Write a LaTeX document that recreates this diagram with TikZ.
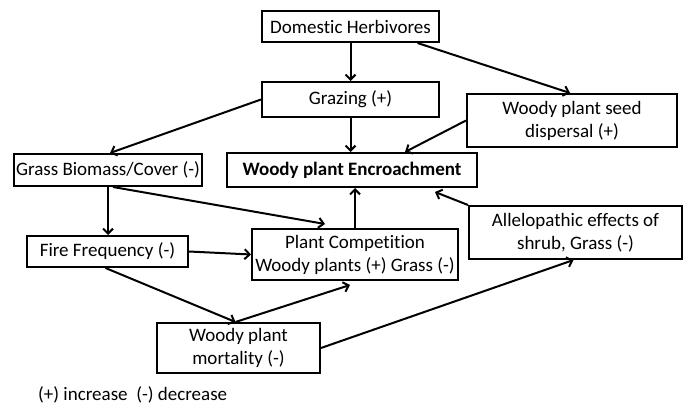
\documentclass[tikz,border=0pt]{standalone}
\usepackage{fontspec}
\setmainfont{Carlito}[Ligatures=NoCommon]
\usetikzlibrary{arrows.meta}
\begin{document}
\begin{tikzpicture}[x=1pt,y=-1pt,
  box/.style={draw,line width=2pt,rectangle,inner sep=0pt,align=center,
    font=\fontsize{19}{23}\selectfont},
  conn/.style={line width=2pt,-{Straight Barb[length=5pt,width=10pt,line width=2pt]}}]
\useasboundingbox (0,0) rectangle (691,406);
\node[box,minimum width=177pt,minimum height=31pt] (dom) at (350.5,26.5) {Domestic Herbivores};
\node[box,minimum width=177pt,minimum height=35pt] (graz) at (350.5,99.5) {Grazing (+)};
\node[box,minimum width=210pt,minimum height=53pt] (seed) at (572,120.5) {Woody plant seed\\dispersal (+)};
\node[box,minimum width=188pt,minimum height=32pt] (grass) at (108,170) {Grass Biomass/Cover (-)};
\node[box,minimum width=250pt,minimum height=34pt,font=\fontsize{19}{23}\selectfont\bfseries] (enc) at (352,170) {Woody plant Encroachment};
\node[box,minimum width=161pt,minimum height=31pt] (fire) at (107.5,251.5) {Fire Frequency (-)};
\node[box,minimum width=206pt,minimum height=51pt] (comp) at (355,254.5) {Plant Competition\\Woody plants (+) Grass (-)};
\node[box,minimum width=213pt,minimum height=53pt] (allelo) at (575.5,232.5) {Allelopathic effects of\\shrub, Grass (-)};
\node[box,minimum width=163pt,minimum height=50pt] (mort) at (238.5,348) {Woody plant\\mortality (-)};
\node[anchor=west,inner sep=0pt,font=\fontsize{19}{23}\selectfont] (legend) at (38,395) {(+) increase\ \ (-) decrease};

\draw[conn] (dom.south) -- (graz.north);
\draw[conn] ([xshift=67pt]dom.south) -- ([xshift=-2pt]seed.north);
\draw[conn] (graz.west) -- ([xshift=2pt]grass.north);
\draw[conn] (graz.south) -- (graz.south |- enc.north);
\draw[conn] (seed.west) -- ([xshift=53pt]enc.north);
\draw[conn] (allelo.north west) -- ([xshift=83pt,yshift=-4pt]enc.south);
\draw[conn] ([xshift=5pt]grass.south) -- ([xshift=-30pt,yshift=4pt]comp.north);
\draw[conn] (grass.south) -- (grass.south |- fire.north);
\draw[conn] (fire.east) -- (comp.west);
\draw[conn] (comp.north) -- (comp.north |- enc.south);
\draw[conn] ([xshift=-2pt]fire.south) -- ([xshift=-3pt]mort.north);
\draw[conn] ([xshift=-3pt]mort.north) -- ([xshift=-5pt,yshift=-4pt]comp.south);
\draw[conn] (mort.east) -- ([xshift=-2pt]allelo.south);
\end{tikzpicture}
\end{document}
